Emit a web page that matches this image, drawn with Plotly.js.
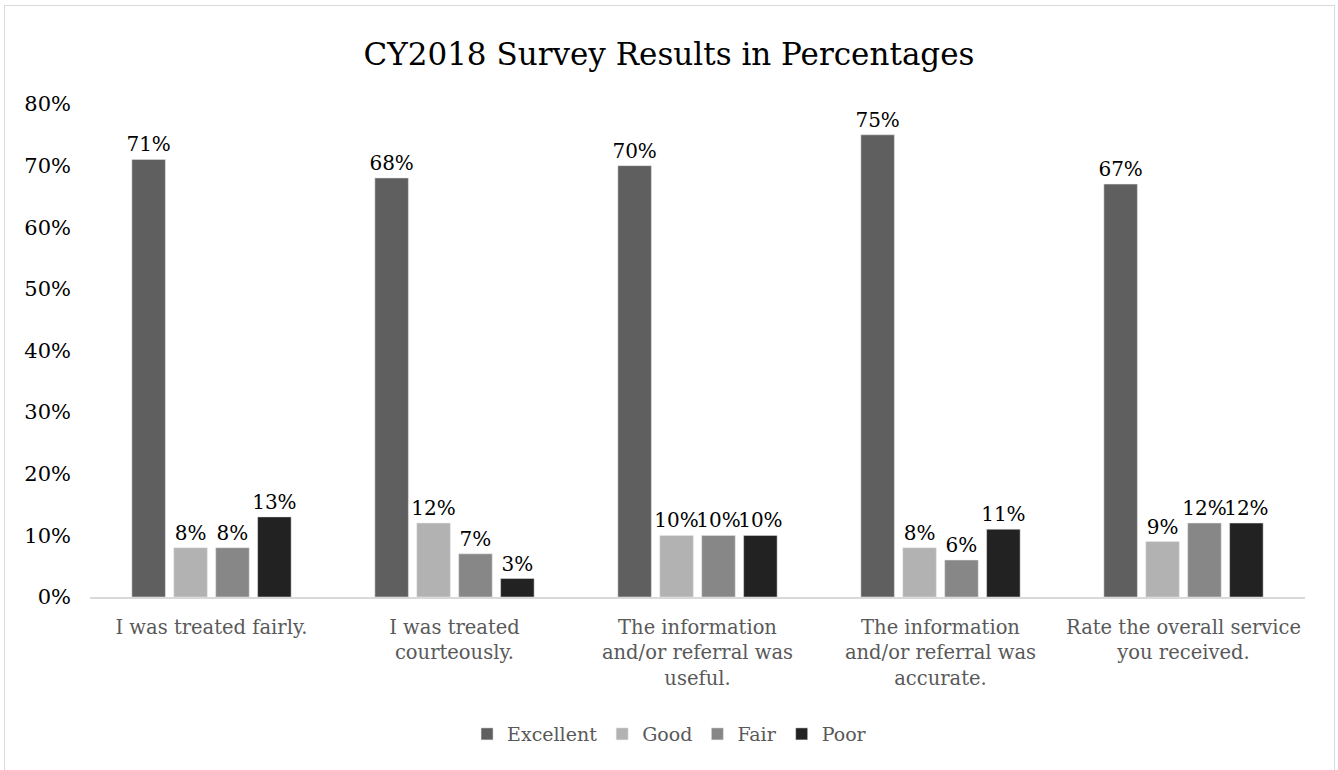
<!DOCTYPE html>
<html><head><meta charset="utf-8">
<script src="https://cdn.plot.ly/plotly-3.0.1.min.js"></script>
<style>html,body{margin:0;padding:0;background:#fff;}
#frame{position:absolute;left:4px;top:5px;width:1329px;height:800px;border:1px solid #d9d9d9;pointer-events:none;}
#chart{position:absolute;left:0;top:0;width:1338px;height:770px;}</style>
</head><body>
<div id="chart"></div><div id="frame"></div>
<script>
const categories = ["I was treated fairly.", "I was treated<br>courteously.", "The information<br>and/or referral was<br>useful.", "The information<br>and/or referral was<br>accurate.", "Rate the overall service<br>you received."];
const seriesNames = ["Excellent", "Good", "Fair", "Poor"];
const excellent = [71, 68, 70, 75, 67];
const good = [8, 12, 10, 8, 9];
const fair = [8, 7, 10, 6, 12];
const poor = [13, 3, 10, 11, 12];
const colors = ["#5f5f5f", "#b2b2b2", "#878787", "#222222"];
const values = [excellent, good, fair, poor];
const FONT = "DejaVu Serif";
const traces = seriesNames.map((n, i) => ({
  type: "bar", name: n, x: categories, y: values[i],
  marker: {color: colors[i], line: {color: "#e8e8e8", width: 0.5}},
  text: values[i].map(v => v + "%"), textposition: "outside", cliponaxis: false,
  constraintext: "none",
  textfont: {family: FONT, size: 20, color: "#000"},
  hoverinfo: "none"
}));
const layout = {
  width: 1338, height: 770,
  margin: {l: 90, r: 33, t: 104, b: 173},
  paper_bgcolor: "#fff", plot_bgcolor: "#fff",
  barmode: "group", bargap: 0.31, bargroupgap: 0.2,
  uniformtext: {mode: false},
  title: {text: "CY2018 Survey Results in Percentages", font: {family: FONT, size: 31, color: "#000"}, x: 0.5, xanchor: "center", y: 0.93, yanchor: "middle"},
  xaxis: {showgrid: false, showline: true, linecolor: "#d9d9d9", linewidth: 1.5, ticks: "", tickfont: {family: FONT, size: 19.5, color: "#595959"}, ticklabelstandoff: 12},
  yaxis: {range: [0, 80], dtick: 10, ticksuffix: "%", showgrid: false, zeroline: false, showline: false, tickfont: {family: FONT, size: 21, color: "#000"}, ticklabelstandoff: 18},
  showlegend: true,
  legend: {orientation: "h", x: 0.477, xanchor: "center", y: -0.278, yanchor: "middle", font: {family: FONT, size: 19, color: "#595959"}, itemwidth: 30, traceorder: "normal"},
  font: {family: FONT}
};
Plotly.newPlot("chart", traces, layout, {displayModeBar: false, staticPlot: true});
</script>
</body></html>
